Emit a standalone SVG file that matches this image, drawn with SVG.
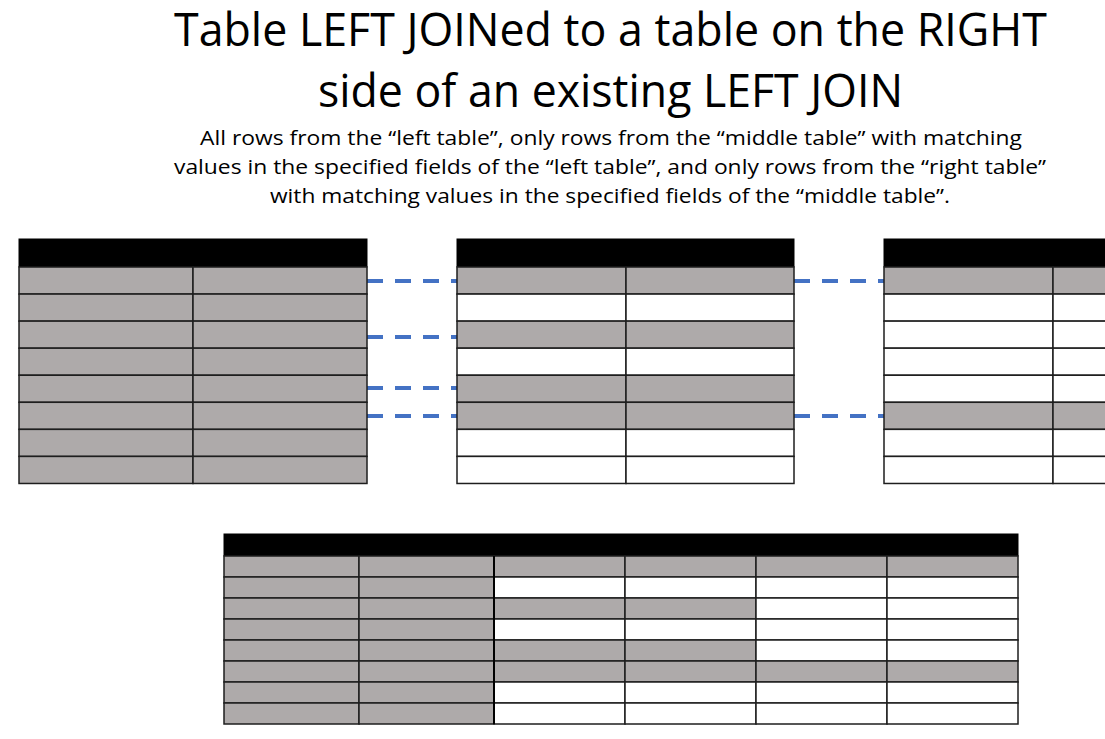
<svg xmlns="http://www.w3.org/2000/svg" width="1105" height="739" viewBox="0 0 1105 739">
<style>
.t{font-family:"Open Sans","Noto Sans","Liberation Sans",sans-serif;fill:#000;text-anchor:middle}
.h{fill:#000;stroke:#000;stroke-width:1}
.g{fill:#AEAAAA;stroke:#1e1e1e;stroke-width:1.5}
.w{fill:#fff;stroke:#1e1e1e;stroke-width:1.5}
.c{stroke:#4472C4;stroke-width:4;stroke-dasharray:16 12;fill:none}
</style>
<rect width="1105" height="739" fill="#fff"/>
<g id="title">
<text class="t" x="610.5" y="46" font-size="45" textLength="873" lengthAdjust="spacingAndGlyphs">Table LEFT JOINed to a table on the RIGHT</text>
<text class="t" x="610.5" y="107" font-size="45" textLength="585" lengthAdjust="spacingAndGlyphs">side of an existing LEFT JOIN</text>
<text class="t" x="611" y="145" font-size="20" textLength="822" lengthAdjust="spacingAndGlyphs">All rows from the “left table”, only rows from the “middle table” with matching</text>
<text class="t" x="610" y="174" font-size="20" textLength="872" lengthAdjust="spacingAndGlyphs">values in the specified fields of the “left table”, and only rows from the “right table”</text>
<text class="t" x="610" y="203" font-size="20" textLength="680" lengthAdjust="spacingAndGlyphs">with matching values in the specified fields of the “middle table”.</text>
</g>
<g id="connectors">
<line class="c" x1="367" y1="281" x2="457" y2="281"/>
<line class="c" x1="367" y1="337" x2="457" y2="337"/>
<line class="c" x1="367" y1="388" x2="457" y2="388"/>
<line class="c" x1="367" y1="416" x2="457" y2="416"/>
<line class="c" x1="794" y1="281" x2="884" y2="281"/>
<line class="c" x1="794" y1="416" x2="884" y2="416"/>
</g>
<g id="left-table">
<rect class="h" x="19" y="239" width="348" height="28"/>
<rect class="g" x="19" y="267" width="174" height="27.06"/><rect class="g" x="193" y="267" width="174" height="27.06"/>
<rect class="g" x="19" y="294.06" width="174" height="27.06"/><rect class="g" x="193" y="294.06" width="174" height="27.06"/>
<rect class="g" x="19" y="321.12" width="174" height="27.06"/><rect class="g" x="193" y="321.12" width="174" height="27.06"/>
<rect class="g" x="19" y="348.18" width="174" height="27.06"/><rect class="g" x="193" y="348.18" width="174" height="27.06"/>
<rect class="g" x="19" y="375.24" width="174" height="27.06"/><rect class="g" x="193" y="375.24" width="174" height="27.06"/>
<rect class="g" x="19" y="402.3" width="174" height="27.06"/><rect class="g" x="193" y="402.3" width="174" height="27.06"/>
<rect class="g" x="19" y="429.36" width="174" height="27.06"/><rect class="g" x="193" y="429.36" width="174" height="27.06"/>
<rect class="g" x="19" y="456.42" width="174" height="27.06"/><rect class="g" x="193" y="456.42" width="174" height="27.06"/>
</g>
<g id="middle-table">
<rect class="h" x="457" y="239" width="337" height="28"/>
<rect class="g" x="457" y="267" width="169" height="27.06"/><rect class="g" x="626" y="267" width="168" height="27.06"/>
<rect class="w" x="457" y="294.06" width="169" height="27.06"/><rect class="w" x="626" y="294.06" width="168" height="27.06"/>
<rect class="g" x="457" y="321.12" width="169" height="27.06"/><rect class="g" x="626" y="321.12" width="168" height="27.06"/>
<rect class="w" x="457" y="348.18" width="169" height="27.06"/><rect class="w" x="626" y="348.18" width="168" height="27.06"/>
<rect class="g" x="457" y="375.24" width="169" height="27.06"/><rect class="g" x="626" y="375.24" width="168" height="27.06"/>
<rect class="g" x="457" y="402.3" width="169" height="27.06"/><rect class="g" x="626" y="402.3" width="168" height="27.06"/>
<rect class="w" x="457" y="429.36" width="169" height="27.06"/><rect class="w" x="626" y="429.36" width="168" height="27.06"/>
<rect class="w" x="457" y="456.42" width="169" height="27.06"/><rect class="w" x="626" y="456.42" width="168" height="27.06"/>
</g>
<g id="right-table">
<rect class="h" x="884" y="239" width="240" height="28"/>
<rect class="g" x="884" y="267" width="169" height="27.06"/><rect class="g" x="1053" y="267" width="169" height="27.06"/>
<rect class="w" x="884" y="294.06" width="169" height="27.06"/><rect class="w" x="1053" y="294.06" width="169" height="27.06"/>
<rect class="w" x="884" y="321.12" width="169" height="27.06"/><rect class="w" x="1053" y="321.12" width="169" height="27.06"/>
<rect class="w" x="884" y="348.18" width="169" height="27.06"/><rect class="w" x="1053" y="348.18" width="169" height="27.06"/>
<rect class="w" x="884" y="375.24" width="169" height="27.06"/><rect class="w" x="1053" y="375.24" width="169" height="27.06"/>
<rect class="g" x="884" y="402.3" width="169" height="27.06"/><rect class="g" x="1053" y="402.3" width="169" height="27.06"/>
<rect class="w" x="884" y="429.36" width="169" height="27.06"/><rect class="w" x="1053" y="429.36" width="169" height="27.06"/>
<rect class="w" x="884" y="456.42" width="169" height="27.06"/><rect class="w" x="1053" y="456.42" width="169" height="27.06"/>
</g>
<g id="result-table">
<rect class="h" x="224" y="534" width="794" height="22"/>
<rect class="g" x="224" y="556" width="135" height="21"/><rect class="g" x="359" y="556" width="135" height="21"/><rect class="g" x="494" y="556" width="131" height="21"/><rect class="g" x="625" y="556" width="131" height="21"/><rect class="g" x="756" y="556" width="131" height="21"/><rect class="g" x="887" y="556" width="131" height="21"/>
<rect class="g" x="224" y="577" width="135" height="21"/><rect class="g" x="359" y="577" width="135" height="21"/><rect class="w" x="494" y="577" width="131" height="21"/><rect class="w" x="625" y="577" width="131" height="21"/><rect class="w" x="756" y="577" width="131" height="21"/><rect class="w" x="887" y="577" width="131" height="21"/>
<rect class="g" x="224" y="598" width="135" height="21"/><rect class="g" x="359" y="598" width="135" height="21"/><rect class="g" x="494" y="598" width="131" height="21"/><rect class="g" x="625" y="598" width="131" height="21"/><rect class="w" x="756" y="598" width="131" height="21"/><rect class="w" x="887" y="598" width="131" height="21"/>
<rect class="g" x="224" y="619" width="135" height="21"/><rect class="g" x="359" y="619" width="135" height="21"/><rect class="w" x="494" y="619" width="131" height="21"/><rect class="w" x="625" y="619" width="131" height="21"/><rect class="w" x="756" y="619" width="131" height="21"/><rect class="w" x="887" y="619" width="131" height="21"/>
<rect class="g" x="224" y="640" width="135" height="21"/><rect class="g" x="359" y="640" width="135" height="21"/><rect class="g" x="494" y="640" width="131" height="21"/><rect class="g" x="625" y="640" width="131" height="21"/><rect class="w" x="756" y="640" width="131" height="21"/><rect class="w" x="887" y="640" width="131" height="21"/>
<rect class="g" x="224" y="661" width="135" height="21"/><rect class="g" x="359" y="661" width="135" height="21"/><rect class="g" x="494" y="661" width="131" height="21"/><rect class="g" x="625" y="661" width="131" height="21"/><rect class="g" x="756" y="661" width="131" height="21"/><rect class="g" x="887" y="661" width="131" height="21"/>
<rect class="g" x="224" y="682" width="135" height="21"/><rect class="g" x="359" y="682" width="135" height="21"/><rect class="w" x="494" y="682" width="131" height="21"/><rect class="w" x="625" y="682" width="131" height="21"/><rect class="w" x="756" y="682" width="131" height="21"/><rect class="w" x="887" y="682" width="131" height="21"/>
<rect class="g" x="224" y="703" width="135" height="21"/><rect class="g" x="359" y="703" width="135" height="21"/><rect class="w" x="494" y="703" width="131" height="21"/><rect class="w" x="625" y="703" width="131" height="21"/><rect class="w" x="756" y="703" width="131" height="21"/><rect class="w" x="887" y="703" width="131" height="21"/>
<line x1="494" y1="556" x2="494" y2="724" stroke="#000" stroke-width="2"/>
</g>
</svg>
